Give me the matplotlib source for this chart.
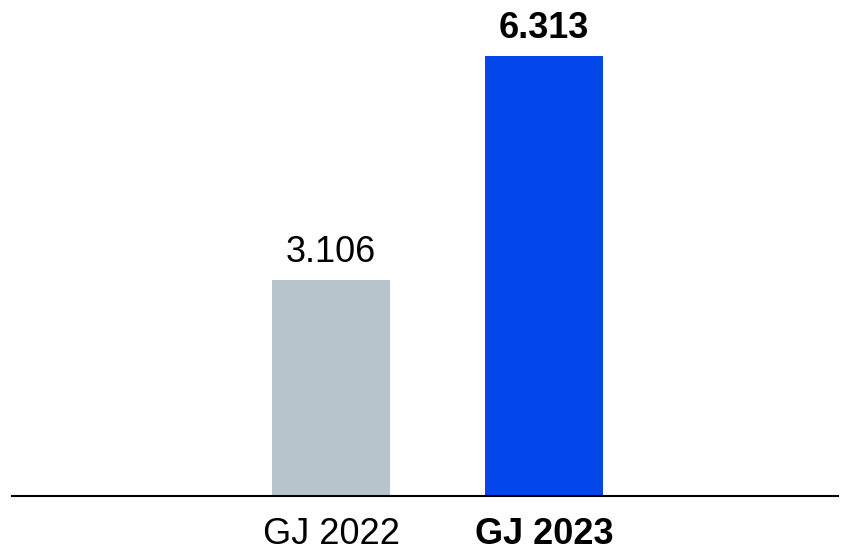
import matplotlib
matplotlib.use("Agg")
import matplotlib.pyplot as plt

plt.rcParams['font.family'] = ['Liberation Sans', 'DejaVu Sans']

categories = ["GJ 2022", "GJ 2023"]
values = [3.106, 6.313]
value_labels = ["3.106", "6.313"]
colors = ["#b8c4cc", "#0347ea"]
bold = [False, True]

fig = plt.figure(figsize=(8.52, 5.51), dpi=100)
ax = fig.add_axes([12 / 852, 55 / 551, 826 / 852, 496 / 551])

x = range(len(categories))
bars = ax.bar(x, values, width=0.555, color=colors)

for bar, lab, b in zip(bars, value_labels, bold):
    ax.annotate(lab, (bar.get_x() + bar.get_width() / 2, bar.get_height()),
                xytext=(0, 7), textcoords="offset points",
                ha="center", va="bottom", fontsize=26,
                fontweight="bold" if b else "normal")

ax.set_xlim(-1.498, 2.380)
ax.set_ylim(0, 7.116)
ax.set_xticks(list(x))
ax.set_xticklabels(categories, fontsize=26)
for t, b in zip(ax.get_xticklabels(), bold):
    if b:
        t.set_fontweight("bold")
ax.tick_params(axis="x", length=0, pad=15)
ax.set_yticks([])
for s in ["top", "right", "left"]:
    ax.spines[s].set_visible(False)
ax.spines["bottom"].set_linewidth(1.5)

fig.savefig("out.png", dpi=100)
